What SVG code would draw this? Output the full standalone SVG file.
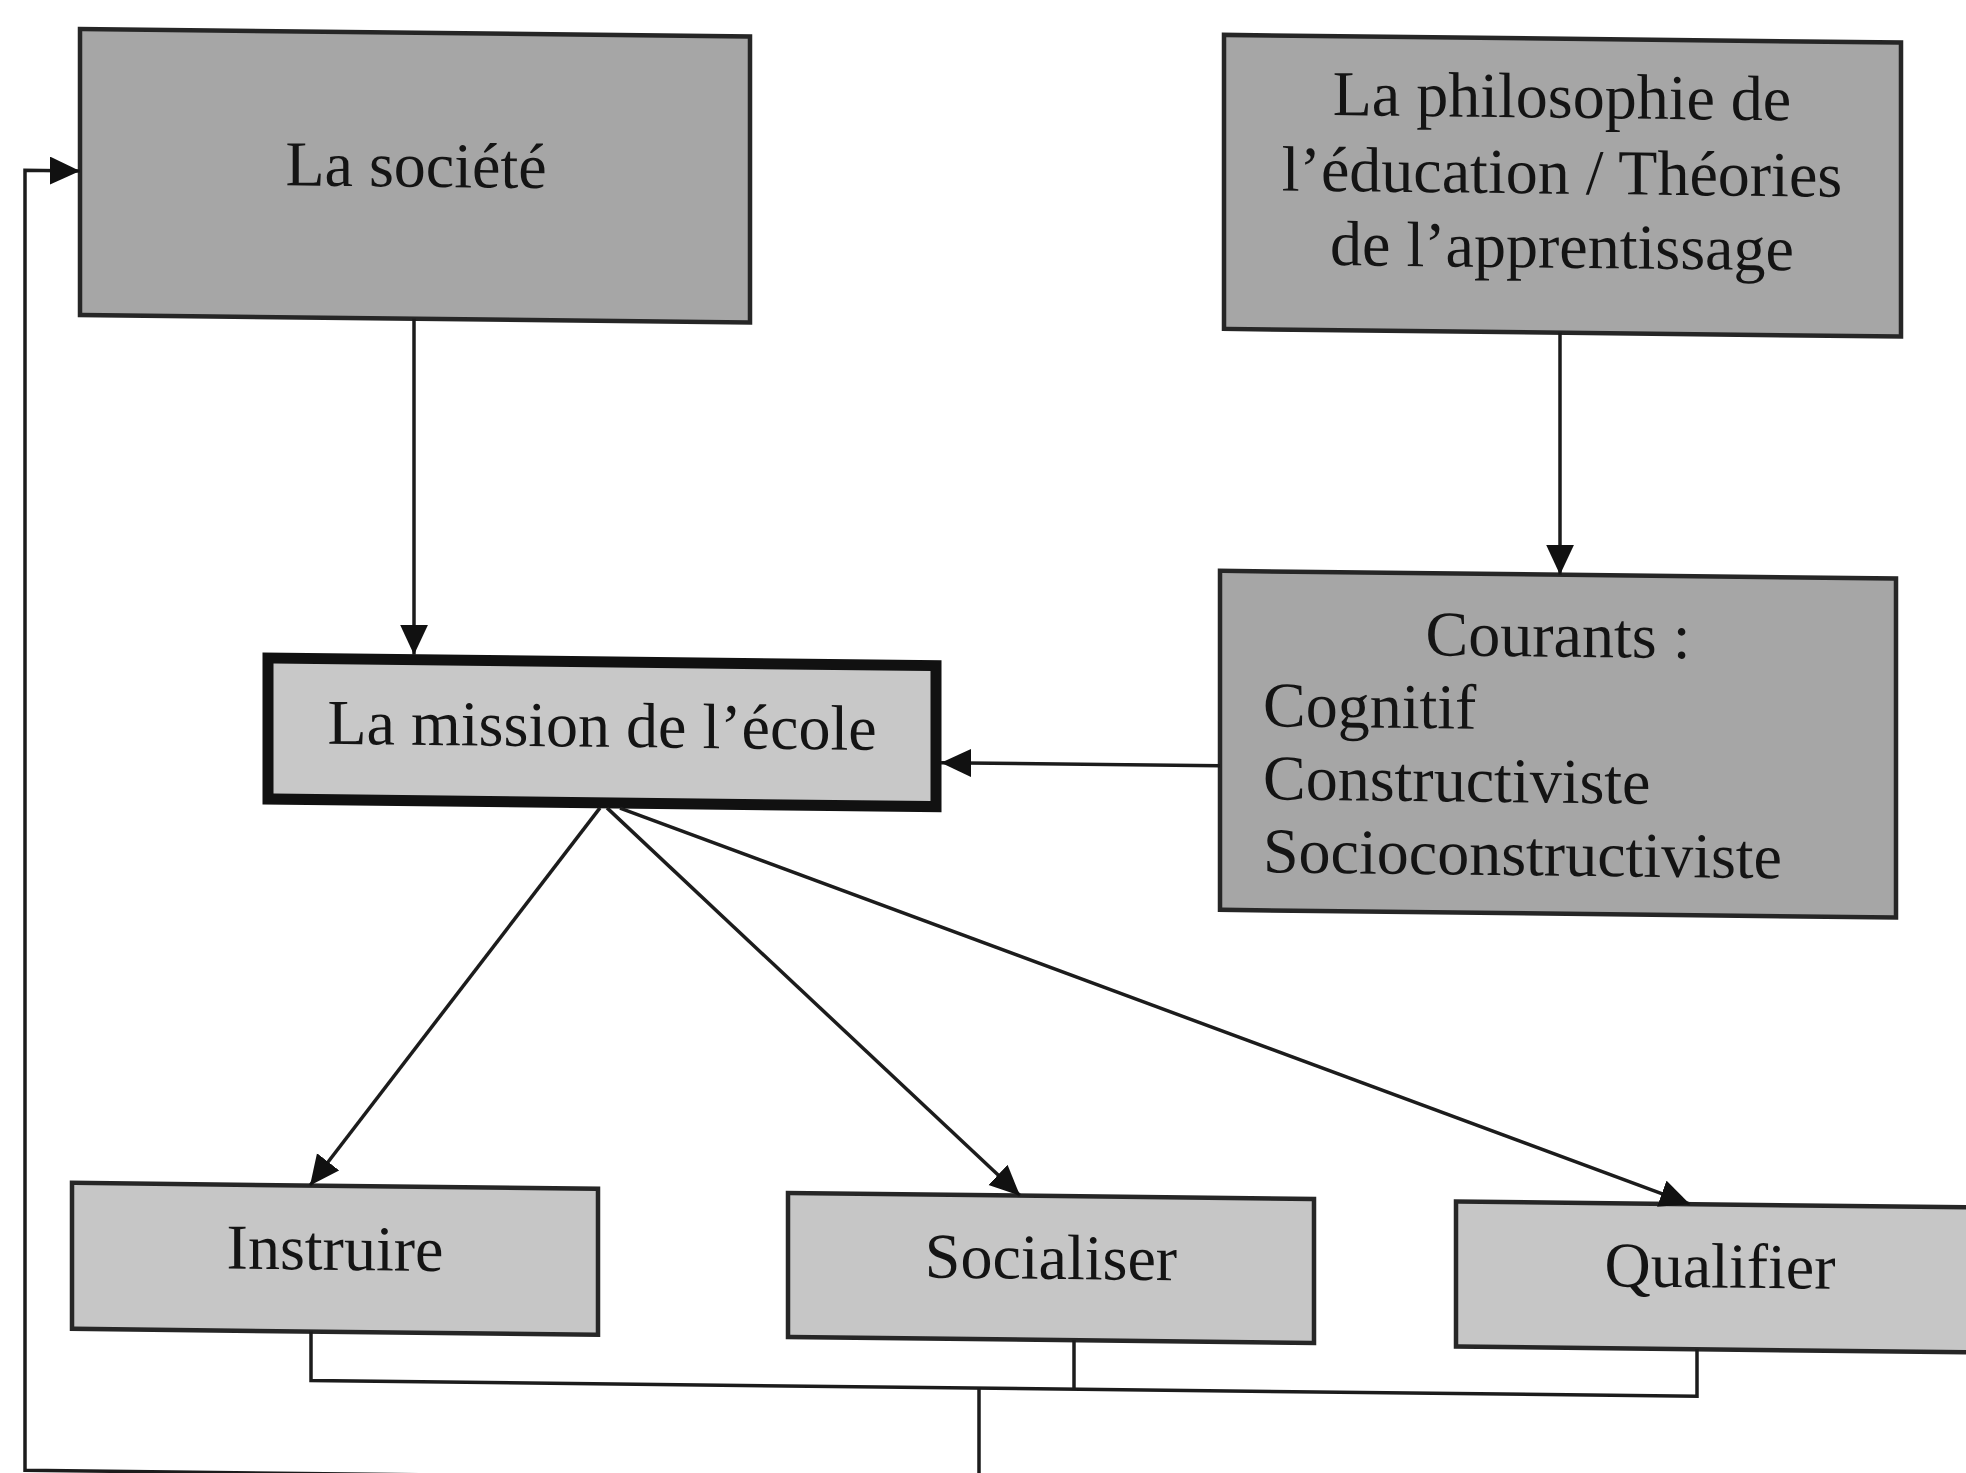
<svg xmlns="http://www.w3.org/2000/svg" width="1966" height="1473" viewBox="0 0 1966 1473">
<style>
.top{fill:#a6a6a6;stroke:#262626;stroke-width:4.5}
.low{fill:#c6c6c6;stroke:#262626;stroke-width:4.5}
.mission{fill:#c8c8c8;stroke:#111;stroke-width:11}
text{font-family:"Liberation Serif","Times New Roman",serif;font-size:64px;fill:#141414}
.c{text-anchor:middle}
.conn{fill:none;stroke:#1c1c1c;stroke-width:3.5}
</style>
<defs>
<marker id="ah" markerUnits="userSpaceOnUse" markerWidth="32" markerHeight="30" refX="30" refY="14" orient="auto">
<path d="M0,0 L30,14 L0,28 z" fill="#111"/>
</marker>
</defs>
<rect width="1966" height="1473" fill="#ffffff"/>
<g transform="skewY(0.65)">
<g id="societe">
<rect class="top" x="80" y="28" width="670" height="286"/>
<text class="c" x="416" y="182">La société</text>
</g>
<g id="philosophie">
<rect class="top" x="1224" y="21" width="677" height="294"/>
<text class="c" x="1562" y="100">La philosophie de</text>
<text class="c" x="1562" y="176">l’éducation / Théories</text>
<text class="c" x="1562" y="250">de l’apprentissage</text>
</g>
<g id="courants">
<rect class="top" x="1220" y="557" width="676" height="339"/>
<text class="c" x="1558" y="639">Courants :</text>
<text x="1263" y="712">Cognitif</text>
<text x="1263" y="785">Constructiviste</text>
<text x="1263" y="858">Socioconstructiviste</text>
</g>
<g id="mission">
<rect class="mission" x="268" y="655" width="668" height="141"/>
<text class="c" x="602" y="740">La mission de l’école</text>
</g>
<g id="instruire">
<rect class="low" x="72" y="1182" width="526" height="146"/>
<text class="c" x="335" y="1266">Instruire</text>
</g>
<g id="socialiser">
<rect class="low" x="788" y="1184" width="526" height="144"/>
<text class="c" x="1051" y="1267">Socialiser</text>
</g>
<g id="qualifier">
<rect class="low" x="1456" y="1185" width="530" height="145"/>
<text class="c" x="1720" y="1268">Qualifier</text>
</g>
<g id="connectors">
<line class="conn" x1="414" y1="314" x2="414" y2="650" marker-end="url(#ah)"/>
<line class="conn" x1="1560" y1="315" x2="1560" y2="557" marker-end="url(#ah)"/>
<line class="conn" x1="1220" y1="752" x2="941" y2="752" marker-end="url(#ah)"/>
<line class="conn" x1="600" y1="801" x2="310" y2="1182" marker-end="url(#ah)"/>
<line class="conn" x1="607" y1="801" x2="1020" y2="1184" marker-end="url(#ah)"/>
<line class="conn" x1="620" y1="801" x2="1690" y2="1185" marker-end="url(#ah)"/>
<polyline class="conn" points="311,1328 311,1377 1697,1377 1697,1330"/>
<line class="conn" x1="1074" y1="1328" x2="1074" y2="1377"/>
<polyline class="conn" points="979,1377 979,1470 25,1470 25,170 80,170" marker-end="url(#ah)"/>
</g>
</g>
</svg>
